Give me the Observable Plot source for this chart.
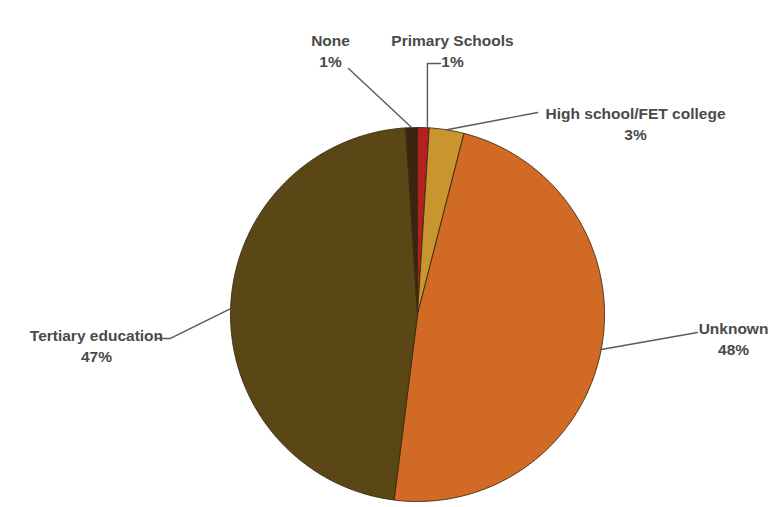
<!DOCTYPE html>
<html><head><meta charset="utf-8">
<script src="https://cdn.jsdelivr.net/npm/d3@7"></script>
<script src="https://cdn.jsdelivr.net/npm/@observablehq/plot@0.6"></script>
<style>body{margin:0;background:#fff}</style>
</head><body><div id="chart"></div>
<script>
// data (clockwise from 12 o'clock)
const categories = ["Primary Schools", "High school/FET college", "Unknown", "Tertiary education", "None"];
const values = [1, 3, 48, 47, 1];
const pctLabels = ["1%", "3%", "48%", "47%", "1%"];
const colors = ["#b3201d", "#c9952e", "#d16a24", "#5b4715", "#3a2610"];

// layout
const W = 773, H = 507, cx = 417, cy = 314, R = 187;
// label block centre and leader path (radius units relative to pie centre)
const labelPos = {
  "Primary Schools": {tx: 0.187, ty: -1.417, path: [[0.053, -1.342], [0.123, -1.342]], vertical: true},
  "High school/FET college": {tx: 1.166, ty: -1.027, path: [[0.642, -1.080]]},
  "Unknown": {tx: 1.690, ty: 0.126, path: [[1.497, 0.096]]},
  "Tertiary education": {tx: -1.717, ty: 0.160, path: [[-1.321, 0.128], [-1.400, 0.128]]},
  "None": {tx: -0.465, ty: -1.417, path: [[-0.369, -1.316]]}
};

const total = d3.sum(values);
const pie = [];
let acc = 0;
categories.forEach((c, i) => {
  const a0 = acc / total * 2 * Math.PI;
  acc += values[i];
  const a1 = acc / total * 2 * Math.PI;
  pie.push({label: c, pct: pctLabels[i], a0, a1, mid: (a0 + a1) / 2});
});

const pts = [];
for (const s of pie) {
  pts.push({label: s.label, x: 0, y: 0});
  const n = Math.max(4, Math.ceil((s.a1 - s.a0) / 0.01));
  for (let k = 0; k <= n; k++) {
    const a = s.a0 + (s.a1 - s.a0) * k / n;
    pts.push({label: s.label, x: Math.sin(a), y: -Math.cos(a)});
  }
  pts.push({label: s.label, x: 0, y: 0});
}

const leaders = [];
const texts = [];
for (const s of pie) {
  const p = labelPos[s.label];
  const ex = Math.sin(s.mid), ey = -Math.cos(s.mid);
  leaders.push({label: s.label, x: p.vertical ? p.path[0][0] : ex, y: ey});
  for (const [x, y] of p.path) leaders.push({label: s.label, x, y});
  texts.push({label: s.label, text: s.label + "\n" + s.pct, x: p.tx, y: p.ty});
}

const chart = Plot.plot({
  width: W, height: H,
  margin: 0,
  x: {domain: [-cx / R, (W - cx) / R], range: [0, W], axis: null},
  y: {domain: [-cy / R, (H - cy) / R], range: [0, H], axis: null},
  color: {domain: categories, range: colors},
  style: {fontFamily: "Liberation Sans, Arial, sans-serif", background: "#fff"},
  marks: [
    Plot.line(pts, {x: "x", y: "y", z: "label", fill: "label", stroke: "#3a2a12", strokeWidth: 0.9, curve: "linear"}),
    Plot.line(leaders, {x: "x", y: "y", z: "label", stroke: "#5a5a5a", strokeWidth: 1.4}),
    Plot.text(texts, {x: "x", y: "y", text: "text", fontSize: 15.5, fontWeight: "bold", lineHeight: 1.35, fill: "#4a4a4a", textAnchor: "middle"})
  ]
});
document.getElementById("chart").append(chart);
</script></body></html>
